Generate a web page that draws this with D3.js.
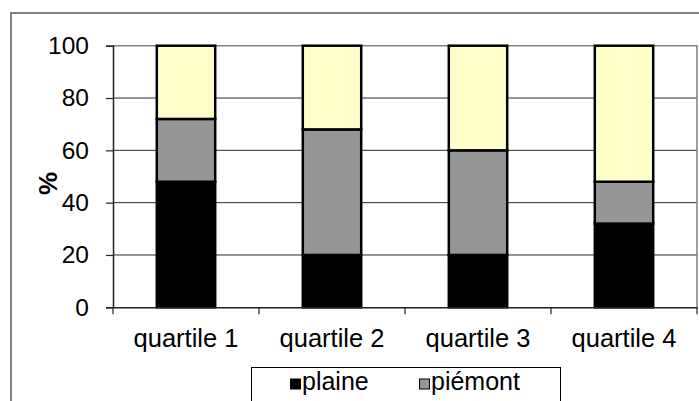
<!DOCTYPE html>
<html>
<head>
<meta charset="utf-8">
<script src="https://cdn.jsdelivr.net/npm/d3@7"></script>
<style>
  html, body { margin: 0; padding: 0; background: #fff; }
  svg { display: block; font-family: "Liberation Sans", Arial, sans-serif; }
</style>
</head>
<body>
<svg id="chart" width="699" height="401"></svg>
<script>
// Share of each zone per quartile (%), stacked to 100
const categories = ["quartile 1", "quartile 2", "quartile 3", "quartile 4"];
const seriesNames = ["plaine", "piémont", "montagne"];
const plaine   = [48, 20, 20, 32];
const piemont  = [24, 48, 40, 16];
const montagne = [28, 32, 40, 52];
const yTicks = [0, 20, 40, 60, 80, 100];
const colors = ["#000000", "#969696", "#FFFFCC"];

const svg = d3.select("#chart");
const FONT = "Liberation Sans, Arial, sans-serif";

// chart frame (runs past the right and bottom edges)
svg.append("rect")
  .attr("x", 11).attr("y", 13)
  .attr("width", 720).attr("height", 420)
  .attr("fill", "#fff").attr("stroke", "#808080").attr("stroke-width", 2);

const plot = { left: 113, right: 697, top: 45.7, bottom: 307.3 };

const x = d3.scaleBand().domain(categories)
  .range([plot.left, plot.right]).paddingInner(0.6).paddingOuter(0.3);
const xTickScale = d3.scaleBand().domain(categories).range([plot.left, plot.right]);
const y = d3.scaleLinear().domain([0, 100]).range([plot.bottom, plot.top]);

// gridlines
svg.append("g").selectAll("line").data(yTicks.filter(t => t > 0 && t < 100)).join("line")
  .attr("x1", plot.left).attr("x2", plot.right)
  .attr("y1", d => y(d)).attr("y2", d => y(d))
  .attr("stroke", "#2a2a2a").attr("stroke-width", 1);

// plot area border (top and right)
svg.append("path")
  .attr("d", `M${plot.left},${y(100)}H${plot.right}V${plot.bottom}`)
  .attr("fill", "none").attr("stroke", "#808080").attr("stroke-width", 1.5);

// stacked bars
const rows = categories.map((c, i) => ({ cat: c, plaine: plaine[i], "piémont": piemont[i], montagne: montagne[i] }));
const stack = d3.stack().keys(seriesNames)(rows);
svg.append("g").selectAll("g").data(stack).join("g")
  .attr("fill", (d, i) => colors[i])
  .selectAll("rect").data(d => d).join("rect")
  .attr("x", d => x(d.data.cat))
  .attr("width", x.bandwidth())
  .attr("y", d => y(d[1]))
  .attr("height", d => y(d[0]) - y(d[1]))
  .attr("stroke", "#000").attr("stroke-width", 2.5);

// y axis
const yAxis = svg.append("g").attr("transform", `translate(${plot.left},0)`)
  .call(d3.axisLeft(y).tickValues(yTicks).tickSize(7).tickPadding(17));
yAxis.select(".domain").attr("stroke", "#222").attr("stroke-width", 1.5);
yAxis.selectAll(".tick line").attr("stroke", "#222").attr("stroke-width", 1.2);
yAxis.selectAll(".tick text").attr("font-size", 24.5).attr("fill", "#000")
  .attr("font-family", FONT);

// x axis
const xAxis = svg.append("g").attr("transform", `translate(0,${plot.bottom})`)
  .call(d3.axisBottom(xTickScale).tickSize(0).tickPadding(0));
xAxis.select(".domain").attr("stroke", "#222").attr("stroke-width", 1.5);
xAxis.selectAll(".tick text").attr("font-size", 25.5).attr("fill", "#000")
  .attr("dy", null).attr("y", 39.3)
  .attr("font-family", FONT);
// category separators
xAxis.append("g").selectAll("line")
  .data(categories.map(c => xTickScale(c)).concat([xTickScale.range()[1]]))
  .join("line")
  .attr("x1", d => d).attr("x2", d => d).attr("y1", 0).attr("y2", 7)
  .attr("stroke", "#222").attr("stroke-width", 1.2);

// y axis title
svg.append("text")
  .attr("transform", `translate(56.5,${(plot.top + plot.bottom) / 2 + 7}) rotate(-90)`)
  .attr("text-anchor", "middle")
  .attr("font-size", 26).attr("font-weight", "bold")
  .attr("font-family", FONT)
  .text("%");

// legend: the box is taller than the visible area, only the first row shows
const legend = svg.append("g");
legend.append("rect")
  .attr("x", 251.5).attr("y", 367.5).attr("width", 309).attr("height", 70)
  .attr("fill", "#fff").attr("stroke", "#000").attr("stroke-width", 1);
const legendPos = [[290, 378.5], [419, 378.5]];
const items = legend.selectAll("g.item").data(seriesNames.slice(0, legendPos.length)).join("g")
  .attr("class", "item")
  .attr("transform", (d, i) => `translate(${legendPos[i][0]},${legendPos[i][1]})`);
items.append("rect")
  .attr("x", 0.5).attr("y", 0.5)
  .attr("width", 10).attr("height", 10)
  .attr("fill", (d, i) => colors[i]).attr("stroke", "#000").attr("stroke-width", 1);
items.append("text")
  .attr("x", 12).attr("y", 11)
  .attr("font-size", 25).attr("fill", "#000")
  .attr("font-family", FONT)
  .text(d => d);
</script>
</body>
</html>
